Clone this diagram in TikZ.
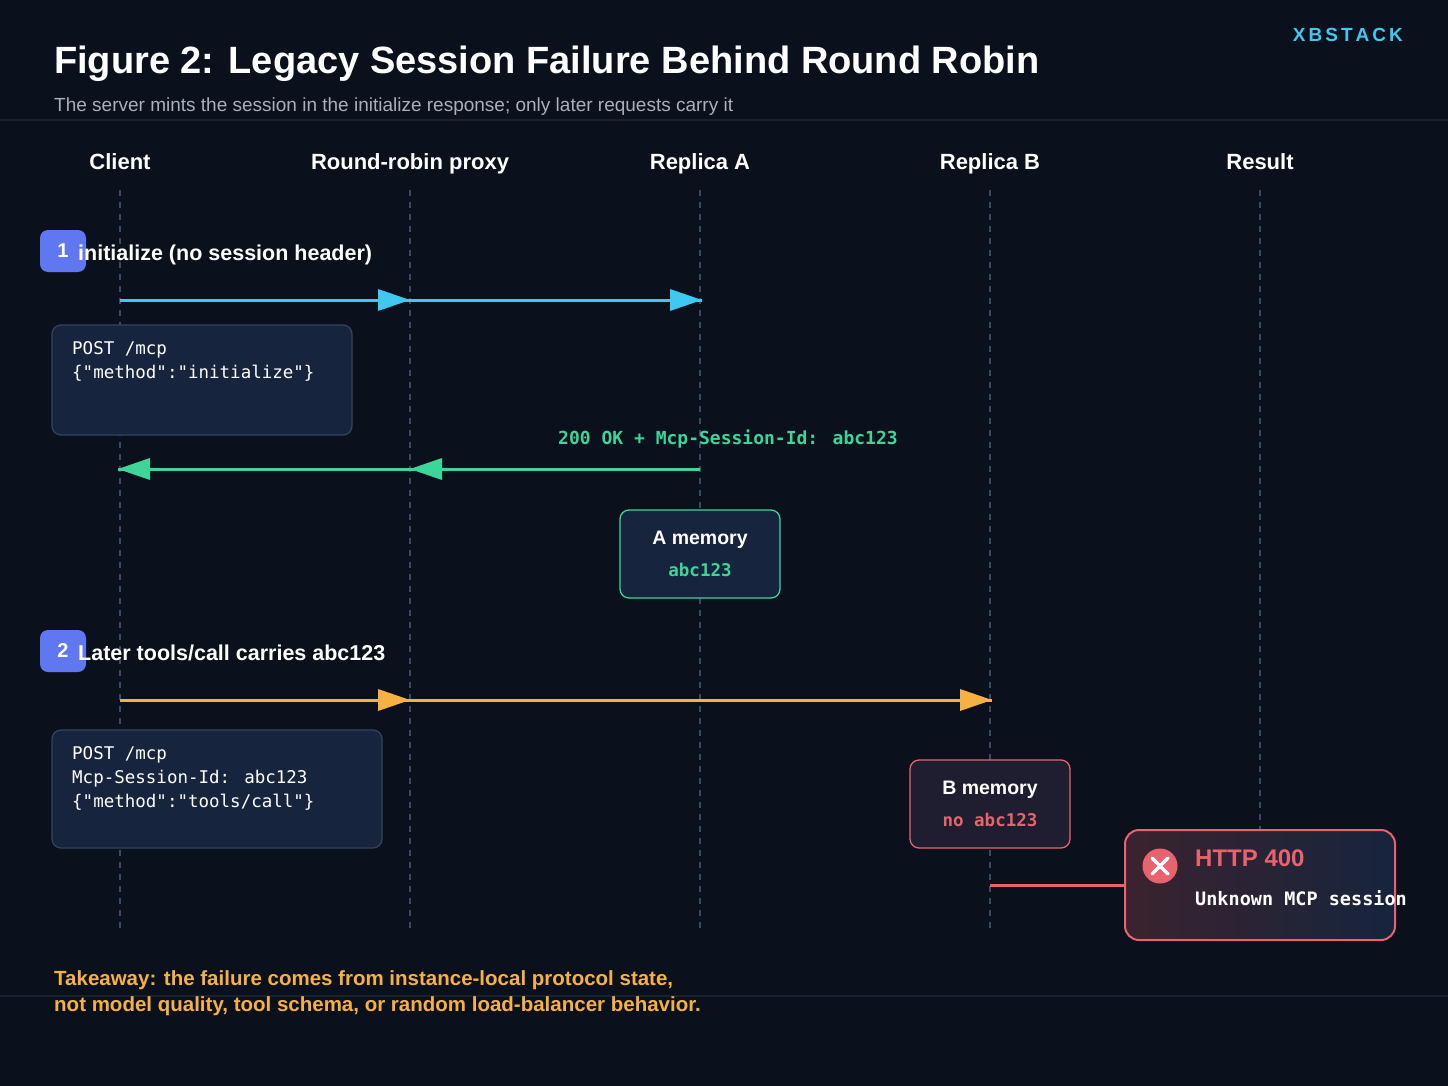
\documentclass[tikz,border=0pt]{standalone}
\usepackage{fontspec}
\setmainfont{Liberation Sans}
\newfontfamily\monof{DejaVu Sans Mono}
\usetikzlibrary{arrows.meta}
\definecolor{bg}{HTML}{0A111C}
\definecolor{boxf}{HTML}{16243D}
\definecolor{boxd}{HTML}{33435F}
\definecolor{cy}{HTML}{3FC8F2}
\definecolor{gr}{HTML}{3DD598}
\definecolor{orr}{HTML}{F7B042}
\definecolor{rd}{HTML}{E8636E}
\definecolor{bd}{HTML}{6077F2}
\definecolor{life}{HTML}{3A4A66}
\definecolor{sep}{HTML}{18212F}
\definecolor{bmf}{HTML}{1E1E30}
\definecolor{sub}{HTML}{A8B0BE}
\begin{document}
\begin{tikzpicture}[x=1pt,y=-1pt,
  hdr/.style={font=\fontsize{22}{24}\selectfont\bfseries,text=white,anchor=base,inner sep=0pt},
  lifeline/.style={life,line width=1.3pt,dash pattern=on 6pt off 6pt},
  tip/.style={-{Triangle[length=32pt,width=22pt]}},
  msg/.style={line width=3pt},
  box/.style={draw=boxd,fill=boxf,line width=1.3pt,rounded corners=9pt},
  mono/.style={font=\monof\fontsize{17.5}{24}\selectfont,text=white,align=left,anchor=north west,inner sep=0pt},
  badge/.style={fill=bd,rounded corners=8pt,minimum width=46pt,minimum height=42pt,inner sep=0pt,font=\fontsize{20}{20}\selectfont\bfseries,text=white},
  lbl/.style={font=\fontsize{21.5}{24}\selectfont\bfseries,text=white,anchor=base west,inner sep=0pt}]
\fill[bg] (0,0) rectangle (1448,1086);
\useasboundingbox (0,0) rectangle (1448,1086);
\draw[sep,line width=1.5pt] (0,120) -- (1448,120);
\draw[sep,line width=1.5pt] (0,996) -- (1448,996);
\node[anchor=base west,inner sep=0pt,font=\fontsize{38}{40}\selectfont\bfseries,text=white] (title) at (54,74) {Figure 2: Legacy Session Failure Behind Round Robin};
\node[anchor=base west,inner sep=0pt,font=\fontsize{19}{20}\selectfont,text=sub] (subt) at (54,112) {The server mints the session in the initialize response; only later requests carry it};
\node[anchor=base east,inner sep=0pt,font=\fontsize{19}{20}\selectfont\bfseries,text=cy] (brand) at (1403,42) {X\hspace{3pt}B\hspace{3pt}S\hspace{3pt}T\hspace{3pt}A\hspace{3pt}C\hspace{3pt}K};
\foreach \n/\x/\t in {c/120/Client,p/410/Round-robin proxy,a/700/Replica A,b/990/Replica B,r/1260/Result}{
  \node[hdr] (h\n) at (\x,170) {\t};
  \coordinate (t\n) at (\x,190);
  \coordinate (e\n) at (\x,930);
  \draw[lifeline] (t\n) -- (e\n);
}
% step 1
\node[badge] (b1) at (63,251) {1};
\node[lbl] (l1) at (78,260) {initialize (no session header)};
\coordinate (c1) at (120,300); \coordinate (p1) at (410,300); \coordinate (a1) at (702,300);
\draw[msg,cy] (c1) -- (a1);
\draw[cy,tip,line width=0pt] (380,300) -- (p1);
\draw[cy,tip,line width=0pt] (670,300) -- (a1);
\draw[box] (52,325) rectangle (352,435);
\node[mono] (m1) at (72,341) {POST /mcp\\\{"method":"initialize"\}};
% reply
\node[font=\monof\fontsize{18}{20}\selectfont\bfseries,text=gr,inner sep=0pt,anchor=base] (rl) at (728,444) {200 OK + Mcp-Session-Id: abc123};
\coordinate (a2) at (700,469); \coordinate (p2) at (410,469); \coordinate (c2) at (118,469);
\draw[msg,gr] (a2) -- (c2);
\draw[gr,tip,line width=0pt] (440,469) -- (p2);
\draw[gr,tip,line width=0pt] (150,469) -- (c2);
\draw[box,draw=gr] (620,510) rectangle (780,598);
\node[font=\fontsize{19.5}{20}\selectfont\bfseries,text=white,anchor=base] (am) at (700,544) {A memory};
\node[font=\monof\fontsize{17.5}{20}\selectfont\bfseries,text=gr,anchor=base] (av) at (700,576) {abc123};
% step 2
\node[badge] (b2) at (63,651) {2};
\node[lbl] (l2) at (78,660) {Later tools/call carries abc123};
\coordinate (c3) at (120,700); \coordinate (p3) at (410,700); \coordinate (b3) at (992,700);
\draw[msg,orr] (c3) -- (b3);
\draw[orr,tip,line width=0pt] (380,700) -- (p3);
\draw[orr,tip,line width=0pt] (960,700) -- (b3);
\draw[box] (52,730) rectangle (382,848);
\node[mono] (m2) at (72,746) {POST /mcp\\Mcp-Session-Id: abc123\\\{"method":"tools/call"\}};
\draw[box,draw=rd,fill=bmf] (910,760) rectangle (1070,848);
\node[font=\fontsize{19.5}{20}\selectfont\bfseries,text=white,anchor=base] (bm) at (990,794) {B memory};
\node[font=\monof\fontsize{17.5}{20}\selectfont\bfseries,text=rd,anchor=base] (bv) at (990,826) {no abc123};
% result
\coordinate (bx) at (990,885); \coordinate (rx) at (1125,885);
\draw[rd,line width=3pt] (bx) -- (rx);
\shade[left color=rd!22!bg,right color=boxf,rounded corners=14pt] (1125,830) rectangle (1395,940);
\draw[rd,line width=2pt,rounded corners=14pt] (1125,830) rectangle (1395,940);
\node[circle,fill=rd,minimum size=35pt,inner sep=0pt] (xc) at (1160,866) {};
\draw[white,line width=3.5pt,line cap=round] (1152,858) -- (1168,874) (1152,874) -- (1168,858);
\node[anchor=base west,inner sep=0pt,font=\fontsize{24}{26}\selectfont\bfseries,text=rd] (ht) at (1195,866) {HTTP 400};
\node[anchor=base west,inner sep=0pt,font=\monof\fontsize{18.5}{20}\selectfont\bfseries,text=white] (hu) at (1195,905) {Unknown MCP session};
% takeaway
\node[anchor=base west,inner sep=0pt,align=left,font=\fontsize{20.5}{26}\selectfont\bfseries,text=orr] (tk) at (54,1011) {Takeaway: the failure comes from instance-local protocol state,\\not model quality, tool schema, or random load-balancer behavior.};
\end{tikzpicture}
\end{document}
